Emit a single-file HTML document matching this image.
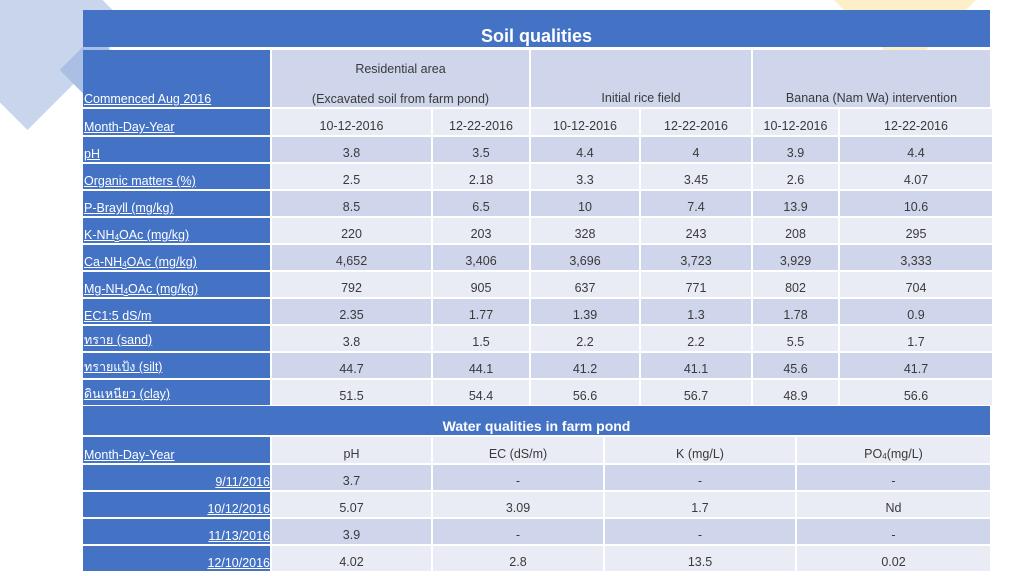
<!DOCTYPE html>
<html><head><meta charset="utf-8"><style>
body{margin:0;width:1024px;height:576px;background:#fff;position:relative;overflow:hidden;font-family:"Liberation Sans","Noto Sans CJK SC",sans-serif;}
.r{position:absolute;left:83px;width:907px;display:grid;column-gap:2px;}
.s{grid-template-columns:187px 159px 96px 108px 110px 85px 152px;}
.w{grid-template-columns:187px 159px 170px 190px 193px;}
.r div{display:flex;align-items:flex-end;justify-content:center;padding-bottom:2px;box-sizing:border-box;font-size:12.5px;color:#3a3a3a;}
.r div:first-child{background:#4472c4;color:#fff;justify-content:flex-start;text-decoration:underline;padding-left:1px;padding-bottom:1px;}
.d div{background:#cfd5ea}.l div{background:#e9ebf5}
.r div.rt{justify-content:flex-end}
.t{position:absolute;left:83px;width:907px;background:#4472c4;color:#fff;font-weight:bold;text-align:center;}
sub{font-size:8px;vertical-align:-1px}
</style></head><body>
<div style="position:absolute;left:-45px;top:-45px;width:145px;height:145px;background:#c9d5ec;transform:rotate(45deg)"></div>
<div style="position:absolute;left:70px;top:45px;width:50px;height:50px;background:#a9bfe3;transform:rotate(45deg)"></div>
<div style="position:absolute;left:830px;top:-110px;width:150px;height:150px;background:#fdf0c8;transform:rotate(45deg)"></div>
<div class="t" style="top:10px;height:37px;line-height:52px;font-size:18px">Soil qualities</div>
<div class="r s" style="top:50px;height:57px;grid-template-columns:187px 257px 220px 237px">
<div>Commenced Aug 2016</div>
<div style="background:#cfd5ea;flex-direction:column;justify-content:space-between;align-items:center;padding:12px 0 1px">Residential area<br><span style="margin-top:14px">(Excavated soil from farm pond)</span></div>
<div style="background:#cfd5ea">Initial rice field</div>
<div style="background:#cfd5ea">Banana (Nam Wa) intervention</div></div>
<div class="r s l" style="top:109px;height:26px"><div>Month-Day-Year</div><div>10-12-2016</div><div>12-22-2016</div><div>10-12-2016</div><div>12-22-2016</div><div>10-12-2016</div><div>12-22-2016</div></div>
<div class="r s d" style="top:137px;height:25px"><div>pH</div><div>3.8</div><div>3.5</div><div>4.4</div><div>4</div><div>3.9</div><div>4.4</div></div>
<div class="r s l" style="top:164px;height:25px"><div>Organic matters (%)</div><div>2.5</div><div>2.18</div><div>3.3</div><div>3.45</div><div>2.6</div><div>4.07</div></div>
<div class="r s d" style="top:191px;height:25px"><div>P-Brayll (mg/kg)</div><div>8.5</div><div>6.5</div><div>10</div><div>7.4</div><div>13.9</div><div>10.6</div></div>
<div class="r s l" style="top:218px;height:25px"><div>K-NH<sub>4</sub>OAc (mg/kg)</div><div>220</div><div>203</div><div>328</div><div>243</div><div>208</div><div>295</div></div>
<div class="r s d" style="top:245px;height:25px"><div>Ca-NH<sub>4</sub>OAc (mg/kg)</div><div>4,652</div><div>3,406</div><div>3,696</div><div>3,723</div><div>3,929</div><div>3,333</div></div>
<div class="r s l" style="top:272px;height:25px"><div>Mg-NH<sub>4</sub>OAc (mg/kg)</div><div>792</div><div>905</div><div>637</div><div>771</div><div>802</div><div>704</div></div>
<div class="r s d" style="top:299px;height:25px"><div>EC1:5 dS/m</div><div>2.35</div><div>1.77</div><div>1.39</div><div>1.3</div><div>1.78</div><div>0.9</div></div>
<div class="r s l" style="top:326px;height:25px"><div>ทราย (sand)</div><div>3.8</div><div>1.5</div><div>2.2</div><div>2.2</div><div>5.5</div><div>1.7</div></div>
<div class="r s d" style="top:353px;height:25px"><div>ทรายแป้ง (silt)</div><div>44.7</div><div>44.1</div><div>41.2</div><div>41.1</div><div>45.6</div><div>41.7</div></div>
<div class="r s l" style="top:380px;height:25px"><div>ดินเหนียว (clay)</div><div>51.5</div><div>54.4</div><div>56.6</div><div>56.7</div><div>48.9</div><div>56.6</div></div>
<div class="t" style="top:406px;height:29px;line-height:40px;font-size:14px">Water qualities in farm pond</div>
<div class="r w l" style="top:437px;height:26px"><div>Month-Day-Year</div><div>pH</div><div>EC (dS/m)</div><div>K (mg/L)</div><div>PO<sub>4</sub> (mg/L)</div></div>
<div class="r w d" style="top:465px;height:25px"><div class="rt">9/11/2016</div><div>3.7</div><div>-</div><div>-</div><div>-</div></div>
<div class="r w l" style="top:492px;height:25px"><div class="rt">10/12/2016</div><div>5.07</div><div>3.09</div><div>1.7</div><div>Nd</div></div>
<div class="r w d" style="top:519px;height:25px"><div class="rt">11/13/2016</div><div>3.9</div><div>-</div><div>-</div><div>-</div></div>
<div class="r w l" style="top:546px;height:25px"><div class="rt">12/10/2016</div><div>4.02</div><div>2.8</div><div>13.5</div><div>0.02</div></div>
</body></html>
